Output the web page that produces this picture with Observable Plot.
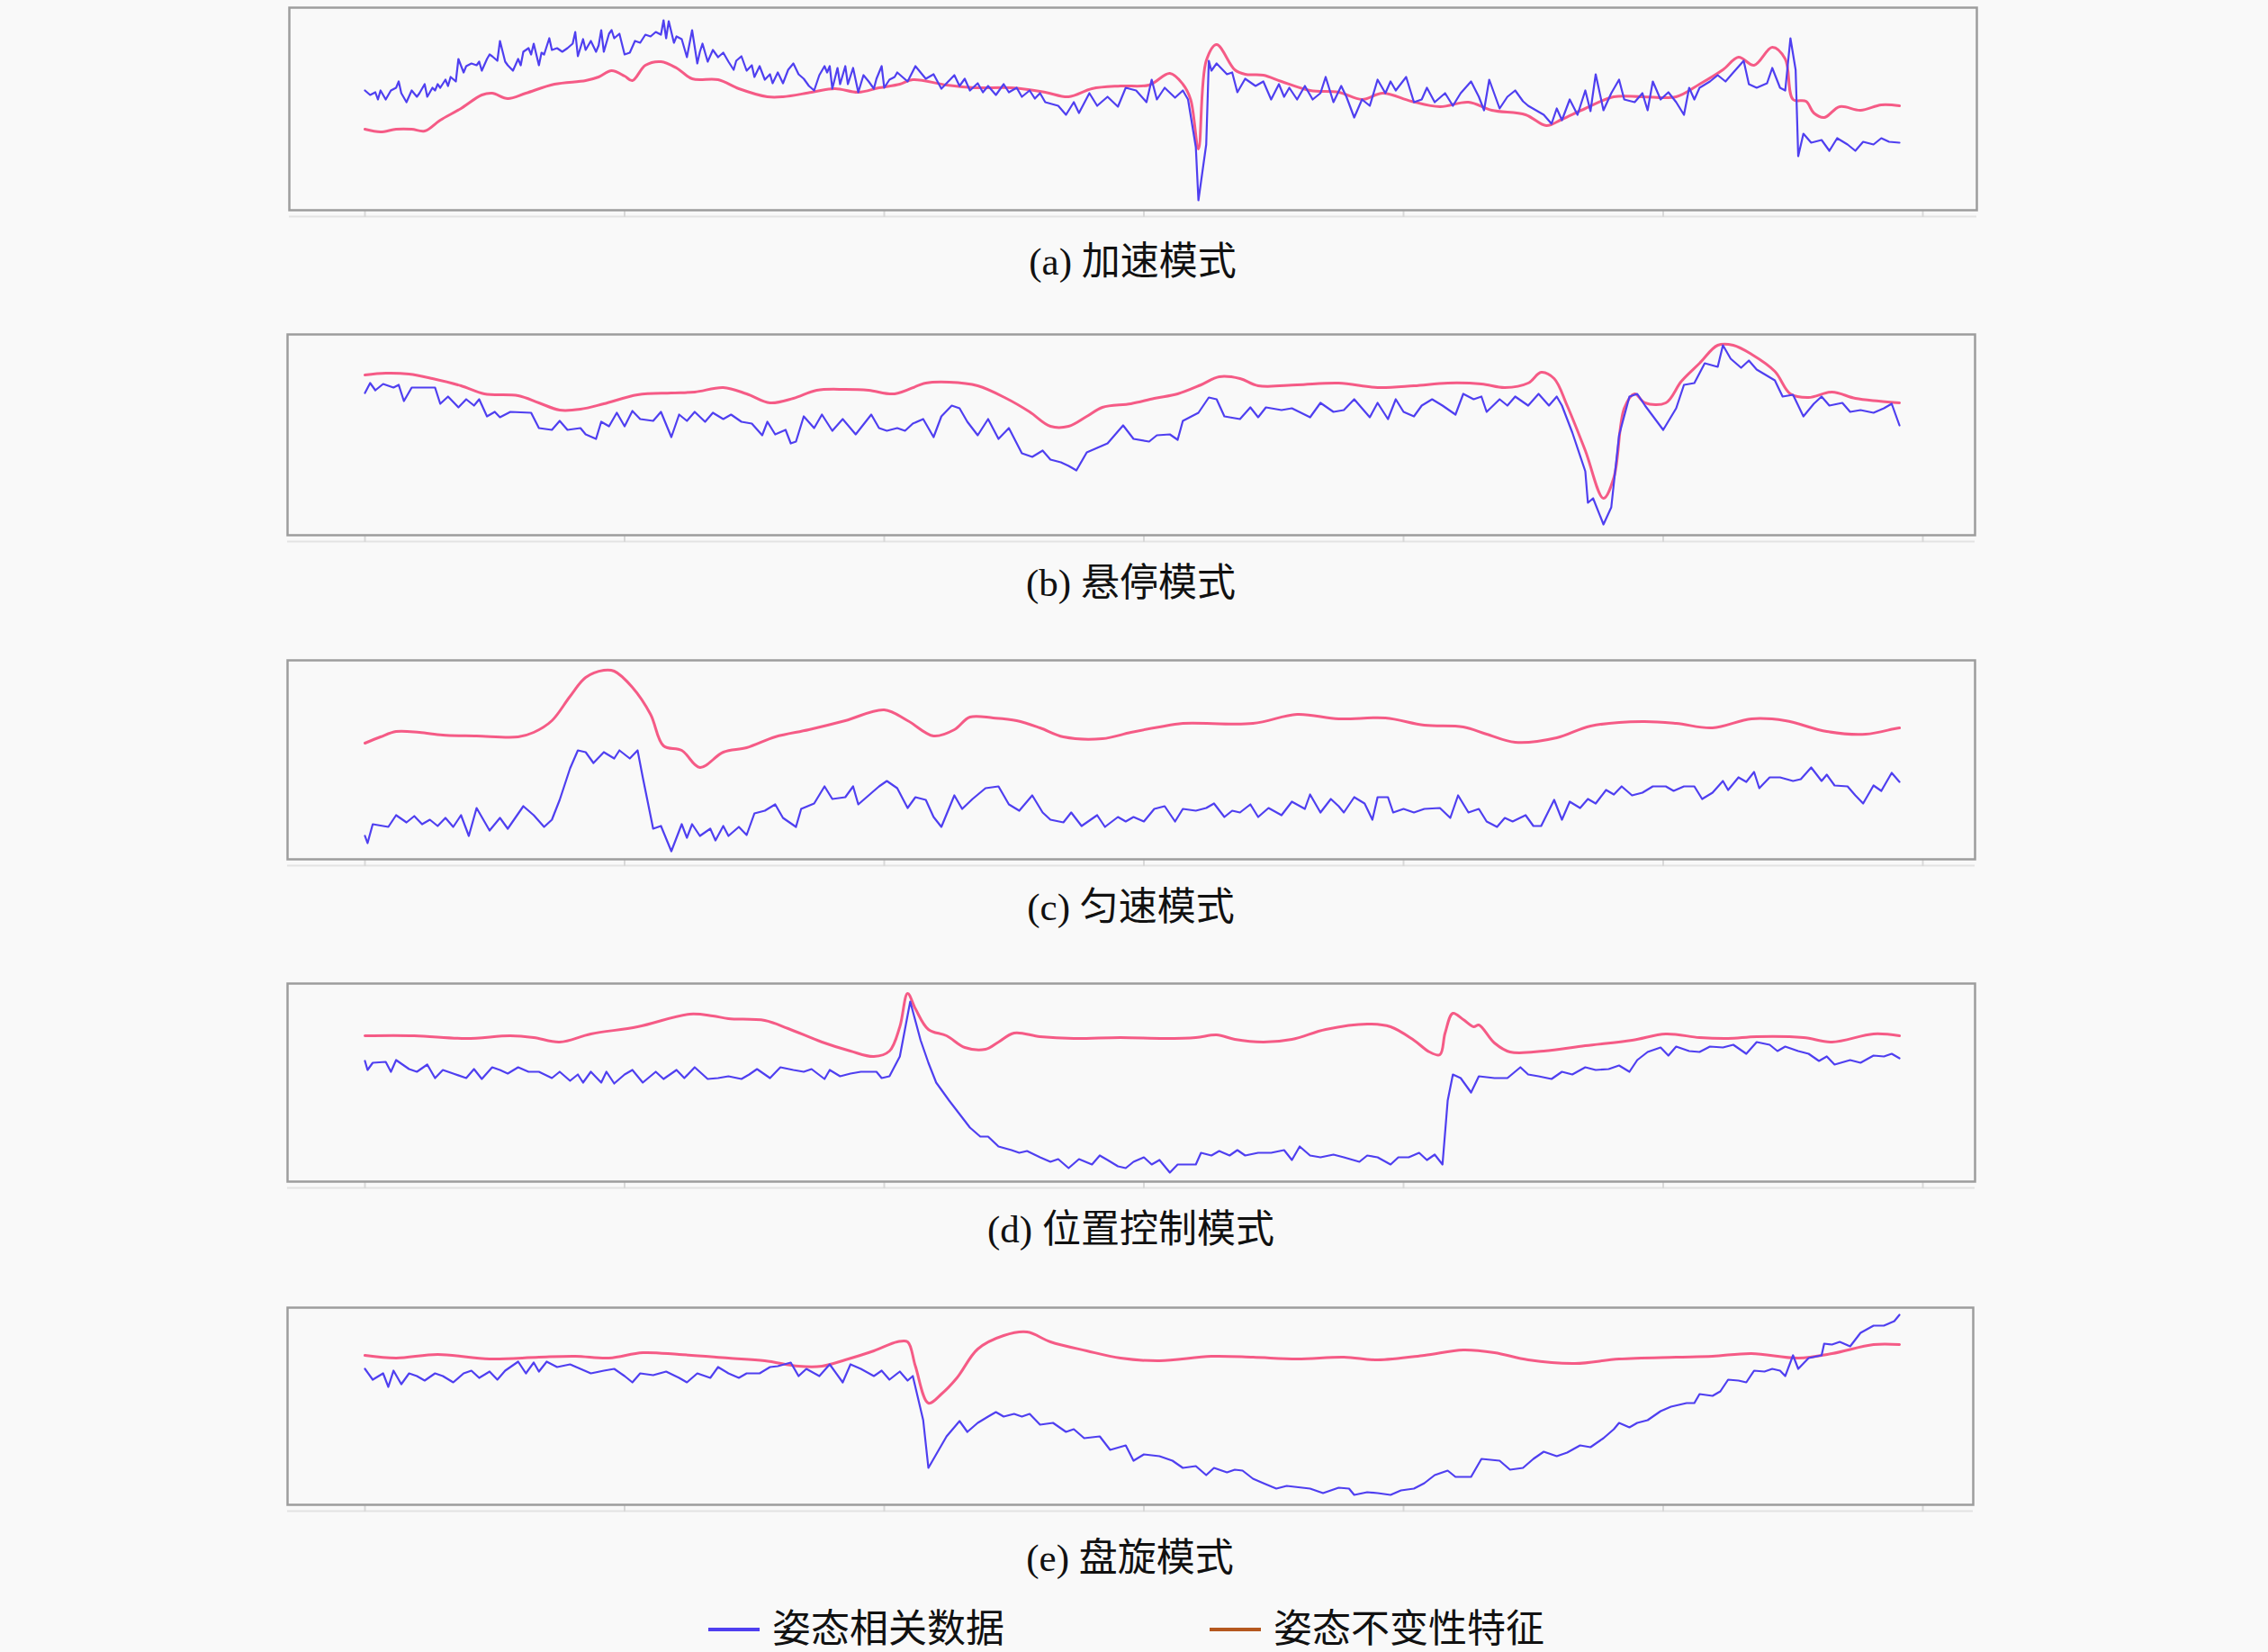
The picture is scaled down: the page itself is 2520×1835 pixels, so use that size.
<!DOCTYPE html>
<html>
<head>
<meta charset="utf-8">
<script src="https://cdn.jsdelivr.net/npm/d3@7"></script>
<script src="https://cdn.jsdelivr.net/npm/@observablehq/plot@0.6"></script>
<style>
  html, body { margin: 0; padding: 0; background: #f9f9f9; }
  #root { position: relative; width: 2520px; height: 1835px; background: #f9f9f9; overflow: hidden;
          font-family: "Liberation Serif", "Noto Sans CJK SC", serif; color: #111; }
  .panel { position: absolute; left: 0; }
  .cap { position: absolute; width: 1000px; text-align: center; font-size: 43px; line-height: 50px; white-space: nowrap; }
  .legend { position: absolute; font-size: 43px; line-height: 50px; white-space: nowrap; display: flex; align-items: center; }
  .sw { display: inline-block; width: 57px; height: 4px; margin-right: 14px; }
</style>
</head>
<body>
<div id="root"></div>
<script>
// ---- data: x = sample index, y = signal level (arbitrary units) ----
const captions = ["(a) 加速模式", "(b) 悬停模式", "(c) 匀速模式", "(d) 位置控制模式", "(e) 盘旋模式"];
const seriesNames = ["姿态相关数据", "姿态不变性特征"];
const xTicks = [0, 100, 200, 300, 400, 500, 600];

const aBlue = [[0,133],[2,128],[4,131],[5,123],[6,133],[8,123],[10,133],[12,136],[13,143],[14,130],[16,120],[18,133],[20,126],[21,130],[23,140],[24,126],[26,136],[27,133],[28,140],[29,136],[31,145],[32,138],[33,148],[35,143],[36,168],[38,153],[39,160],[41,163],[43,161],[44,165],[45,155],[47,168],[48,173],[49,171],[51,166],[52,188],[54,165],[55,161],[57,155],[59,168],[60,161],[61,176],[63,180],[64,173],[65,185],[67,161],[68,175],[69,173],[71,191],[72,178],[74,180],[76,176],[78,180],[80,185],[81,198],[82,171],[84,190],[85,178],[87,188],[89,176],[90,183],[91,200],[92,176],[94,196],[95,200],[96,191],[98,196],[100,173],[102,175],[104,188],[106,186],[108,195],[110,193],[112,198],[114,195],[115,211],[116,191],[117,210],[119,186],[120,193],[122,190],[124,170],[126,200],[128,163],[129,176],[130,185],[132,165],[134,178],[136,170],[138,175],[140,165],[142,156],[143,166],[145,171],[147,155],[149,161],[150,148],[152,160],[154,145],[156,151],[157,141],[159,153],[161,141],[163,156],[165,163],[167,151],[169,146],[171,138],[173,133],[175,150],[177,160],[178,153],[179,160],[180,135],[182,158],[183,140],[185,160],[186,140],[188,158],[190,131],[192,150],[194,143],[196,135],[197,146],[199,160],[200,136],[202,145],[204,148],[205,153],[209,143],[212,160],[216,146],[219,151],[222,135],[227,150],[229,138],[231,146],[233,133],[236,141],[238,131],[240,138],[243,128],[246,140],[248,131],[251,136],[253,126],[256,133],[258,124],[260,130],[262,120],[267,116],[270,106],[273,120],[275,108],[279,130],[282,116],[286,126],[290,115],[293,136],[297,133],[301,120],[303,145],[305,123],[308,136],[312,125],[315,133],[317,123],[320,70],[321,11],[324,73],[325,166],[326,155],[328,163],[332,151],[334,153],[336,131],[339,146],[343,138],[346,143],[349,123],[352,140],[354,126],[356,136],[359,123],[362,138],[365,123],[368,130],[370,148],[373,120],[376,138],[378,126],[381,103],[384,123],[387,116],[390,145],[393,130],[395,143],[397,133],[401,148],[404,120],[407,123],[409,136],[412,120],[416,130],[419,116],[422,130],[426,143],[429,126],[431,111],[433,145],[437,113],[440,126],[443,133],[446,121],[448,116],[451,111],[454,106],[457,96],[459,113],[461,100],[464,123],[467,106],[470,133],[472,110],[474,151],[477,111],[480,130],[483,145],[485,123],[489,120],[492,130],[494,111],[496,143],[499,123],[502,131],[505,120],[508,106],[510,136],[512,123],[514,136],[518,143],[521,150],[524,143],[527,153],[531,166],[533,140],[536,136],[540,141],[542,158],[545,136],[547,133],[549,191],[551,156],[552,60],[554,85],[557,75],[561,78],[564,66],[567,80],[571,73],[574,66],[577,76],[581,73],[584,80],[587,76],[591,75]];
const aPink = [[0,90],[6,87],[12,90],[18,90],[23,88],[29,100],[37,113],[45,128],[49,130],[55,124],[62,130],[73,140],[85,144],[90,148],[95,155],[100,149],[103,144],[108,161],[114,165],[120,158],[126,146],[136,145],[144,135],[155,126],[161,126],[172,131],[181,135],[190,131],[198,136],[206,140],[211,145],[224,139],[235,136],[249,136],[262,131],[271,126],[280,135],[291,138],[302,139],[310,152],[315,140],[318,123],[321,68],[324,166],[328,184],[335,156],[339,151],[346,150],[353,143],[364,133],[375,131],[384,123],[392,130],[403,121],[414,115],[425,120],[434,111],[447,106],[455,94],[461,101],[470,113],[481,126],[492,126],[505,126],[514,140],[523,156],[529,170],[535,161],[542,181],[547,168],[550,123],[555,121],[558,108],[562,103],[568,115],[576,111],[584,117],[591,116]];

const bBlue = [[0,158],[2,169],[4,161],[7,168],[11,164],[13,167],[15,149],[18,164],[23,164],[27,164],[29,146],[32,154],[36,142],[39,151],[42,144],[44,151],[47,132],[50,137],[52,131],[56,137],[64,136],[67,119],[72,117],[75,127],[78,117],[83,119],[85,112],[89,107],[91,126],[94,121],[97,136],[100,121],[103,138],[106,129],[111,127],[114,137],[118,109],[121,134],[124,127],[127,137],[131,126],[134,136],[138,129],[141,134],[145,126],[149,124],[153,111],[155,126],[158,112],[162,117],[164,102],[166,104],[169,132],[173,119],[176,134],[180,116],[184,129],[189,112],[195,134],[198,119],[201,116],[205,119],[208,116],[211,124],[215,129],[219,109],[222,132],[226,144],[229,141],[232,126],[236,111],[240,129],[244,107],[248,119],[253,91],[257,87],[261,94],[264,84],[268,81],[271,77],[274,72],[278,92],[282,97],[286,102],[292,122],[296,107],[302,104],[305,111],[310,112],[313,106],[315,127],[321,136],[325,153],[328,151],[331,132],[337,129],[341,142],[344,131],[347,142],[353,139],[357,141],[364,131],[368,147],[373,137],[377,139],[381,151],[387,131],[390,147],[394,129],[397,151],[400,137],[404,132],[407,144],[411,151],[415,144],[420,134],[423,157],[427,151],[430,154],[432,137],[437,151],[440,144],[443,154],[448,144],[452,157],[456,144],[459,154],[461,144],[465,114],[470,71],[471,36],[473,41],[477,12],[480,31],[483,111],[487,154],[490,157],[493,144],[500,117],[505,141],[508,167],[512,169],[516,191],[521,187],[523,211],[526,196],[530,186],[533,194],[536,184],[543,172],[546,154],[550,156],[554,132],[558,146],[561,154],[564,144],[569,147],[572,137],[576,139],[581,136],[585,141],[588,146],[591,122]];
const bPink = [[0,178],[8,180],[17,179],[26,174],[37,166],[46,157],[59,155],[67,147],[75,139],[83,140],[92,146],[105,156],[118,158],[127,159],[138,164],[147,157],[156,147],[165,152],[174,161],[185,162],[194,161],[204,157],[216,169],[225,170],[236,166],[247,152],[256,137],[264,121],[271,121],[278,132],[284,142],[295,146],[304,152],[313,157],[322,167],[329,176],[337,174],[344,166],[359,167],[375,169],[390,164],[404,166],[417,169],[430,168],[439,164],[448,169],[453,181],[458,174],[463,144],[470,94],[477,41],[481,64],[485,141],[489,157],[493,147],[501,147],[507,171],[514,191],[521,211],[527,211],[534,201],[543,182],[549,157],[556,153],[565,159],[574,152],[583,149],[591,147]];

const cBlue = [[0,26],[1,18],[3,39],[7,37],[9,36],[12,49],[16,41],[19,48],[22,39],[25,44],[28,37],[31,46],[34,36],[37,49],[40,26],[43,57],[48,32],[52,46],[55,34],[61,59],[65,49],[69,36],[72,44],[75,66],[79,101],[82,121],[85,119],[88,107],[92,119],[96,112],[98,121],[102,112],[105,121],[107,91],[111,34],[114,37],[118,9],[122,39],[124,24],[126,39],[129,26],[133,34],[135,21],[138,37],[140,26],[144,36],[147,27],[150,51],[154,54],[158,61],[161,46],[166,36],[168,56],[173,62],[177,81],[180,67],[185,69],[188,81],[190,61],[194,71],[198,81],[201,87],[205,79],[209,57],[212,69],[216,66],[219,47],[222,36],[227,71],[230,56],[234,67],[239,79],[244,81],[248,61],[252,54],[257,71],[261,52],[264,44],[269,41],[272,52],[276,37],[282,49],[285,36],[290,47],[293,42],[296,47],[300,42],[304,56],[308,59],[312,42],[315,56],[320,54],[324,57],[327,62],[331,47],[334,54],[337,52],[341,61],[344,47],[348,57],[353,49],[357,64],[362,56],[364,72],[368,52],[372,67],[375,59],[377,52],[381,69],[385,62],[388,44],[390,69],[394,69],[396,52],[400,56],[404,52],[408,56],[414,57],[418,46],[421,71],[425,52],[429,56],[432,42],[436,36],[439,46],[442,42],[447,49],[450,37],[453,37],[458,66],[461,44],[464,64],[468,57],[471,67],[474,62],[478,77],[481,72],[484,81],[488,71],[492,74],[496,81],[501,81],[504,76],[508,81],[512,81],[515,67],[519,74],[523,87],[525,77],[529,91],[532,86],[535,97],[537,79],[541,91],[545,91],[550,87],[553,89],[557,102],[561,87],[563,94],[566,82],[571,81],[574,71],[577,62],[581,82],[584,76],[588,96],[591,86]];
const cPink = [[0,129],[6,136],[12,142],[21,141],[30,138],[43,137],[59,136],[65,141],[72,154],[79,181],[85,202],[92,210],[96,209],[103,191],[110,161],[115,126],[122,121],[129,102],[138,119],[147,124],[158,136],[171,144],[185,154],[200,166],[209,154],[219,137],[227,144],[233,158],[242,157],[251,154],[260,146],[269,136],[284,134],[295,141],[306,147],[315,151],[342,151],[359,161],[375,156],[393,157],[408,149],[423,147],[432,139],[443,130],[459,135],[472,148],[492,153],[505,151],[519,146],[534,156],[547,154],[563,142],[578,139],[589,145],[591,146]];

const dBlue = [[0,134],[1,124],[3,132],[8,133],[10,122],[12,135],[17,125],[20,122],[24,130],[27,115],[30,124],[34,120],[39,115],[42,125],[45,114],[49,127],[52,124],[55,120],[59,127],[63,122],[67,122],[72,115],[75,122],[79,112],[82,119],[84,110],[87,122],[91,110],[93,122],[96,109],[100,119],[103,124],[107,110],[112,122],[115,114],[120,124],[123,115],[127,127],[132,114],[136,115],[140,117],[145,114],[148,119],[151,125],[156,115],[160,127],[165,124],[169,122],[172,125],[177,114],[179,124],[183,117],[187,120],[191,122],[197,122],[199,115],[202,117],[206,139],[210,200],[214,157],[217,132],[220,110],[225,90],[229,75],[233,60],[237,50],[240,50],[244,39],[249,35],[252,32],[255,34],[260,27],[264,22],[267,25],[271,15],[275,25],[280,19],[283,29],[286,24],[290,17],[293,15],[296,22],[300,27],[303,19],[306,24],[310,10],[313,19],[320,19],[322,32],[326,29],[329,34],[333,29],[336,35],[339,29],[344,32],[349,32],[354,35],[357,24],[360,39],[364,29],[368,27],[373,30],[377,27],[383,22],[386,29],[390,27],[395,19],[398,27],[402,27],[406,32],[409,24],[412,30],[415,19],[417,90],[419,119],[422,115],[426,99],[429,117],[435,115],[440,115],[445,127],[448,119],[452,117],[457,114],[461,122],[465,119],[470,127],[474,124],[479,125],[483,129],[487,122],[490,135],[494,144],[499,149],[502,140],[505,150],[510,145],[514,144],[518,150],[523,149],[527,152],[532,142],[536,155],[541,152],[544,145],[547,150],[552,145],[556,142],[560,134],[563,139],[566,130],[572,135],[576,132],[581,140],[585,139],[588,142],[591,137]];
const dPink = [[0,162],[19,162],[39,159],[56,162],[65,160],[75,155],[87,164],[105,172],[125,186],[134,184],[140,181],[154,179],[163,170],[176,155],[187,145],[196,139],[202,145],[206,172],[209,209],[212,192],[217,169],[224,162],[231,149],[239,147],[244,155],[250,165],[260,161],[273,159],[291,160],[308,159],[320,160],[328,163],[335,158],[346,155],[357,158],[370,169],[386,175],[395,172],[404,157],[410,144],[414,141],[416,165],[419,187],[423,180],[427,172],[429,174],[435,154],[441,144],[454,145],[470,151],[488,157],[501,164],[514,160],[525,159],[536,161],[554,160],[565,155],[581,164],[591,162]];

const eBlue = [[0,151],[3,139],[7,146],[9,131],[11,149],[14,134],[17,146],[20,143],[23,138],[27,146],[30,143],[34,136],[38,146],[41,149],[44,141],[48,148],[51,139],[54,149],[59,159],[62,146],[65,158],[67,148],[70,159],[74,153],[79,156],[83,151],[87,146],[92,149],[96,151],[100,143],[103,136],[106,146],[111,144],[116,148],[121,141],[124,136],[128,146],[133,141],[136,153],[140,146],[144,141],[147,146],[152,146],[156,153],[159,154],[164,158],[167,143],[170,151],[175,143],[179,156],[184,136],[187,156],[191,151],[196,143],[199,149],[202,139],[206,148],[209,138],[211,143],[215,94],[217,41],[220,56],[224,76],[229,93],[232,81],[236,91],[240,98],[243,103],[246,98],[250,101],[253,98],[256,101],[260,89],[265,91],[270,81],[273,84],[277,74],[283,76],[287,61],[293,66],[296,49],[300,56],[306,54],[311,49],[315,41],[320,43],[324,33],[327,41],[332,36],[335,39],[338,38],[342,29],[346,24],[351,18],[355,21],[364,18],[369,13],[375,19],[379,18],[381,11],[386,14],[390,13],[395,11],[399,16],[404,18],[408,24],[412,33],[417,38],[420,31],[426,31],[430,51],[437,49],[441,39],[446,41],[450,51],[454,59],[459,54],[463,58],[468,66],[472,64],[477,74],[481,84],[483,91],[487,86],[490,91],[494,94],[499,104],[503,109],[509,113],[512,113],[514,123],[519,121],[522,126],[525,139],[529,138],[532,136],[535,149],[539,148],[542,151],[545,149],[547,143],[550,166],[552,151],[556,163],[561,166],[562,179],[565,178],[568,181],[572,176],[576,191],[581,199],[585,199],[589,204],[591,211]];
const ePink = [[0,166],[12,163],[28,167],[48,162],[67,164],[81,165],[94,163],[107,169],[121,167],[140,163],[154,160],[167,154],[176,154],[185,161],[196,171],[205,181],[209,181],[212,154],[217,113],[222,123],[228,141],[236,173],[246,188],[255,192],[264,181],[278,171],[291,163],[306,160],[326,165],[342,164],[359,162],[377,164],[390,161],[408,166],[423,172],[435,169],[448,161],[466,157],[483,162],[505,164],[519,165],[534,168],[552,163],[565,168],[581,178],[591,178]];

// ---- layout ----
const X0 = 405, PX_PER_SAMPLE = 2.885;
const layout = [
  {blue: aBlue, pink: aPink, left: 321, right: 2196, top: 8,    bottom: 233,  cap: 291},
  {blue: bBlue, pink: bPink, left: 319, right: 2194, top: 371,  bottom: 594,  cap: 648},
  {blue: cBlue, pink: cPink, left: 319, right: 2194, top: 733,  bottom: 954,  cap: 1008},
  {blue: dBlue, pink: dPink, left: 319, right: 2194, top: 1092, bottom: 1312, cap: 1366},
  {blue: eBlue, pink: ePink, left: 319, right: 2192, top: 1452, bottom: 1671, cap: 1731}
];
const BLUE = "#4f3ff0", PINK = "#f4527f", LEGEND_ORANGE = "#b5581f";

const root = document.getElementById("root");
layout.forEach((p, i) => {
  const H = p.bottom - p.top;
  const mt = 2, mb = 14;
  const chart = Plot.plot({
    width: 2520,
    height: H + mt + mb,
    marginLeft: p.left,
    marginRight: 2520 - p.right,
    marginTop: mt,
    marginBottom: mb,
    x: {domain: [(p.left - X0) / PX_PER_SAMPLE, (p.right - X0) / PX_PER_SAMPLE], axis: null},
    y: {domain: [0, H], axis: null},
    style: {background: "transparent", overflow: "visible"},
    marks: [
      Plot.ruleY([0], {dy: 7, stroke: "#e3e3e3", strokeWidth: 2}),
      Plot.axisX(xTicks, {anchor: "bottom", tickSize: 8, tickFormat: () => "", stroke: "#d9d9d9", strokeWidth: 2}),
      Plot.frame({stroke: "#9d9d9d", strokeWidth: 2.5}),
      Plot.line(p.pink, {x: d => d[0], y: d => d[1], stroke: PINK, strokeWidth: 3, strokeOpacity: 0.95, curve: "catmull-rom"}),
      Plot.line(p.blue, {x: d => d[0], y: d => d[1], stroke: BLUE, strokeWidth: 2.2})
    ]
  });
  const wrap = document.createElement("div");
  wrap.className = "panel";
  wrap.style.top = (p.top - mt) + "px";
  wrap.appendChild(chart);
  root.appendChild(wrap);

  const cap = document.createElement("div");
  cap.className = "cap";
  cap.textContent = captions[i];
  cap.style.left = ((p.left + p.right) / 2 - 500) + "px";
  cap.style.top = (p.cap - 25) + "px";
  root.appendChild(cap);
});

// legend
[[787, BLUE, seriesNames[0]], [1344, LEGEND_ORANGE, seriesNames[1]]].forEach(([x, c, t]) => {
  const el = document.createElement("div");
  el.className = "legend";
  el.style.left = x + "px";
  el.style.top = (1810 - 25) + "px";
  const sw = document.createElement("span");
  sw.className = "sw";
  sw.style.background = c;
  const tx = document.createElement("span");
  tx.textContent = t;
  el.appendChild(sw);
  el.appendChild(tx);
  root.appendChild(el);
});
</script>
</body>
</html>
